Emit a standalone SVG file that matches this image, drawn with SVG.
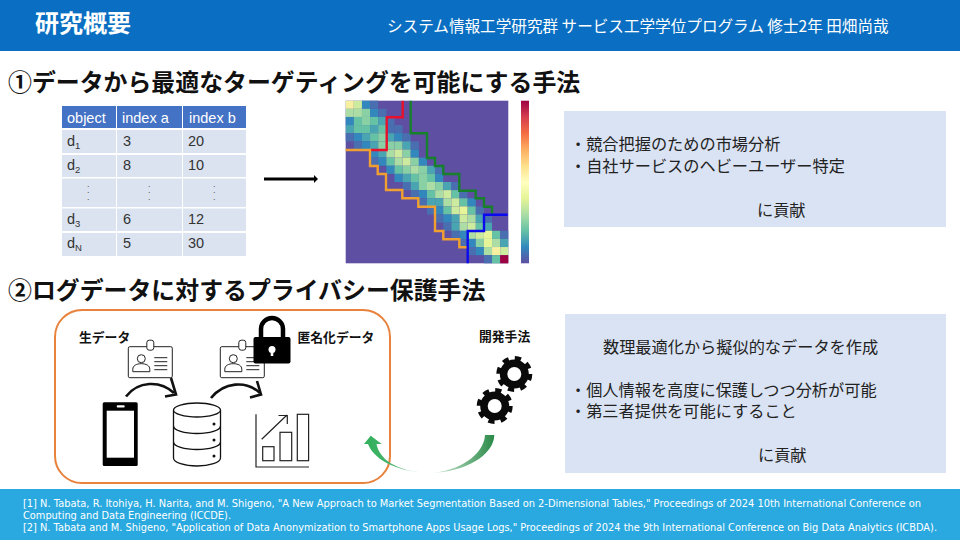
<svg xmlns="http://www.w3.org/2000/svg" width="960" height="540" viewBox="0 0 960 540">
<style>
.jp{font-family:"Noto Sans CJK JP","Liberation Sans",sans-serif}
.b{font-weight:700}
.hd{font-size:23.9px;font-weight:700;fill:#111}
.info{font-size:16.2px;fill:#222}
.lab{font-size:12.8px;font-weight:700;fill:#111}
.t{font-family:"Liberation Sans",sans-serif;font-size:14.5px;fill:#333}
.th{font-family:"Liberation Sans",sans-serif;font-size:14.5px;fill:#fff}
.sub{font-size:9.5px}
.ref{font-family:"DejaVu Sans",sans-serif;font-size:10.4px;fill:#fff}
.c1{fill:#dbe3f1}.c2{fill:#4472c4}
.dots{font-family:"Liberation Sans",sans-serif;font-size:9px;fill:#555}
.a{fill:#4a6fb0}.b1{fill:#3288bd}.c{fill:#4aa5b2}.d{fill:#66c2a5}.e{fill:#89d0a5}.f{fill:#abdda4}.g{fill:#cdeb9e}.h{fill:#e6f598}.i{fill:#f7f0a0}.z{fill:#9e0142}
.ln{fill:none;stroke-width:2.4}
.icon{fill:none;stroke:#222;stroke-width:1.2}
.curve{fill:none;stroke:#111;stroke-width:2.6}
</style>
<defs>
<linearGradient id="cb" x1="0" y1="1" x2="0" y2="0">
<stop offset="0" stop-color="#5e4fa2"/><stop offset=".1" stop-color="#3288bd"/><stop offset=".2" stop-color="#66c2a5"/><stop offset=".3" stop-color="#abdda4"/><stop offset=".4" stop-color="#e6f598"/><stop offset=".5" stop-color="#ffffbf"/><stop offset=".6" stop-color="#fee08b"/><stop offset=".7" stop-color="#fdae61"/><stop offset=".8" stop-color="#f46d43"/><stop offset=".9" stop-color="#d53e4f"/><stop offset="1" stop-color="#9e0142"/>
</linearGradient>
<linearGradient id="gr" gradientUnits="userSpaceOnUse" x1="494" y1="440" x2="366" y2="440">
<stop offset="0" stop-color="#2a8a48"/><stop offset=".45" stop-color="#c9e5d0"/><stop offset=".5" stop-color="#e8f3ea"/><stop offset=".62" stop-color="#5bb878"/><stop offset="1" stop-color="#33b05c"/>
</linearGradient>
<g id="card">
<rect x="0" y="0" width="44" height="31" rx="1.5" fill="#fff" stroke="#222" stroke-width="1"/>
<rect x="18.500" y="-6.500" width="7" height="10" rx="2.500" fill="#fff" stroke="#222" stroke-width="1"/>
<circle cx="13" cy="12" r="4" fill="none" stroke="#222" stroke-width="1"/>
<path d="M4.500 25v-2.500c0-3.500 3.500-5.500 8.500-5.500s8.500 2 8.500 5.500v2.500z" fill="none" stroke="#222" stroke-width="1"/>
<path d="M26 11h13M26 15h13M26 19h13M26 23h13" stroke="#222" stroke-width="1"/>
</g>
<g id="gear">
<circle r="14.500" fill="#0a0a0a"/>
<circle r="15.500" fill="none" stroke="#0a0a0a" stroke-width="5" stroke-dasharray="6.09 6.09"/>
<circle r="7" fill="#fff"/>
</g>
</defs>

<g id="header">
<rect x="0" y="0" width="960" height="51" fill="#0a6fc2"/>
<text class="jp b" x="35" y="32" font-size="24" fill="#fff">研究概要</text>
<text class="jp" x="387" y="32" font-size="15.6" fill="#fff">システム情報工学研究群 サービス工学学位プログラム 修士2年 田畑尚哉</text>
</g>

<text class="jp hd" x="8" y="91">①データから最適なターゲティングを可能にする手法</text>
<text class="jp hd" x="8" y="299">②ログデータに対するプライバシー保護手法</text>

<g id="table">
<rect class="c2" x="62" y="106" width="54" height="22"/><rect class="c2" x="117" y="106" width="65" height="22"/><rect class="c2" x="183" y="106" width="63" height="22"/>
<rect class="c1" x="62" y="130" width="54" height="23"/><rect class="c1" x="117" y="130" width="65" height="23"/><rect class="c1" x="183" y="130" width="63" height="23"/>
<rect class="c1" x="62" y="155" width="54" height="22"/><rect class="c1" x="117" y="155" width="65" height="22"/><rect class="c1" x="183" y="155" width="63" height="22"/>
<rect class="c1" x="62" y="178.500" width="54" height="28.500"/><rect class="c1" x="117" y="178.500" width="65" height="28.500"/><rect class="c1" x="183" y="178.500" width="63" height="28.500"/>
<rect class="c1" x="62" y="208.500" width="54" height="22.500"/><rect class="c1" x="117" y="208.500" width="65" height="22.500"/><rect class="c1" x="183" y="208.500" width="63" height="22.500"/>
<rect class="c1" x="62" y="233" width="54" height="23"/><rect class="c1" x="117" y="233" width="65" height="23"/><rect class="c1" x="183" y="233" width="63" height="23"/>
<text class="th" x="67" y="123">object</text><text class="th" x="122" y="123">index a</text><text class="th" x="189" y="123">index b</text>
<text class="t" x="67" y="146">d<tspan class="sub" dy="3">1</tspan></text><text class="t" x="123" y="146">3</text><text class="t" x="188" y="146">20</text>
<text class="t" x="67" y="170">d<tspan class="sub" dy="3">2</tspan></text><text class="t" x="123" y="170">8</text><text class="t" x="188" y="170">10</text>
<text class="dots" x="87" y="187">.</text><text class="dots" x="87" y="193">.</text><text class="dots" x="87" y="200">.</text>
<text class="dots" x="148" y="187">.</text><text class="dots" x="148" y="193">.</text><text class="dots" x="148" y="200">.</text>
<text class="dots" x="213" y="187">.</text><text class="dots" x="213" y="193">.</text><text class="dots" x="213" y="200">.</text>
<text class="t" x="67" y="224">d<tspan class="sub" dy="3">3</tspan></text><text class="t" x="123" y="224">6</text><text class="t" x="188" y="224">12</text>
<text class="t" x="67" y="248">d<tspan class="sub" dy="3">N</tspan></text><text class="t" x="123" y="248">5</text><text class="t" x="188" y="248">30</text>
</g>

<g id="heatmap" transform="translate(345.7 100.7) scale(8.13)">
<rect width="20" height="20" fill="#5e4fa2"/>
<rect class="i" x="0" y="0" width="1" height="1"/><rect class="g" x="1" y="0" width="1" height="1"/><rect class="b1" x="2" y="0" width="1" height="1"/><rect class="a" x="3" y="0" width="1" height="1"/>
<rect class="f" x="0" y="1" width="1" height="1"/><rect class="f" x="1" y="1" width="1" height="1"/><rect class="e" x="2" y="1" width="1" height="1"/><rect class="b1" x="3" y="1" width="1" height="1"/><rect class="a" x="4" y="1" width="1" height="1"/>
<rect class="b1" x="0" y="2" width="1" height="1"/><rect class="d" x="1" y="2" width="1" height="1"/><rect class="e" x="2" y="2" width="1" height="1"/><rect class="d" x="3" y="2" width="1" height="1"/><rect class="c" x="4" y="2" width="1" height="1"/><rect class="a" x="5" y="2" width="1" height="1"/>
<rect class="c" x="0" y="3" width="1" height="1"/><rect class="d" x="1" y="3" width="1" height="1"/><rect class="d" x="2" y="3" width="1" height="1"/><rect class="c" x="3" y="3" width="1" height="1"/><rect class="d" x="4" y="3" width="1" height="1"/><rect class="a" x="5" y="3" width="1" height="1"/><rect class="a" x="6" y="3" width="1" height="1"/>
<rect class="a" x="0" y="4" width="1" height="1"/><rect class="b1" x="1" y="4" width="1" height="1"/><rect class="c" x="2" y="4" width="1" height="1"/><rect class="d" x="3" y="4" width="1" height="1"/><rect class="e" x="4" y="4" width="1" height="1"/><rect class="c" x="5" y="4" width="1" height="1"/><rect class="b1" x="6" y="4" width="1" height="1"/><rect class="a" x="7" y="4" width="1" height="1"/>
<rect class="a" x="1" y="5" width="1" height="1"/><rect class="b1" x="2" y="5" width="1" height="1"/><rect class="c" x="3" y="5" width="1" height="1"/><rect class="e" x="4" y="5" width="1" height="1"/><rect class="e" x="5" y="5" width="1" height="1"/><rect class="e" x="6" y="5" width="1" height="1"/><rect class="c" x="7" y="5" width="1" height="1"/><rect class="a" x="8" y="5" width="1" height="1"/>
<rect class="b1" x="3" y="6" width="1" height="1"/><rect class="c" x="4" y="6" width="1" height="1"/><rect class="f" x="5" y="6" width="1" height="1"/><rect class="g" x="6" y="6" width="1" height="1"/><rect class="e" x="7" y="6" width="1" height="1"/><rect class="b1" x="8" y="6" width="1" height="1"/>
<rect class="a" x="3" y="7" width="1" height="1"/><rect class="b1" x="4" y="7" width="1" height="1"/><rect class="d" x="5" y="7" width="1" height="1"/><rect class="f" x="6" y="7" width="1" height="1"/><rect class="g" x="7" y="7" width="1" height="1"/><rect class="e" x="8" y="7" width="1" height="1"/><rect class="b1" x="9" y="7" width="1" height="1"/>
<rect class="b1" x="5" y="8" width="1" height="1"/><rect class="d" x="6" y="8" width="1" height="1"/><rect class="e" x="7" y="8" width="1" height="1"/><rect class="f" x="8" y="8" width="1" height="1"/><rect class="e" x="9" y="8" width="1" height="1"/><rect class="c" x="10" y="8" width="1" height="1"/><rect class="a" x="11" y="8" width="1" height="1"/>
<rect class="b1" x="6" y="9" width="1" height="1"/><rect class="c" x="7" y="9" width="1" height="1"/><rect class="d" x="8" y="9" width="1" height="1"/><rect class="e" x="9" y="9" width="1" height="1"/><rect class="d" x="10" y="9" width="1" height="1"/><rect class="b1" x="11" y="9" width="1" height="1"/>
<rect class="a" x="7" y="10" width="1" height="1"/><rect class="c" x="8" y="10" width="1" height="1"/><rect class="e" x="9" y="10" width="1" height="1"/><rect class="f" x="10" y="10" width="1" height="1"/><rect class="e" x="11" y="10" width="1" height="1"/><rect class="c" x="12" y="10" width="1" height="1"/><rect class="a" x="13" y="10" width="1" height="1"/>
<rect class="a" x="8" y="11" width="1" height="1"/><rect class="b1" x="9" y="11" width="1" height="1"/><rect class="d" x="10" y="11" width="1" height="1"/><rect class="f" x="11" y="11" width="1" height="1"/><rect class="g" x="12" y="11" width="1" height="1"/><rect class="d" x="13" y="11" width="1" height="1"/><rect class="a" x="14" y="11" width="1" height="1"/>
<rect class="a" x="9" y="12" width="1" height="1"/><rect class="c" x="10" y="12" width="1" height="1"/><rect class="c" x="11" y="12" width="1" height="1"/><rect class="f" x="12" y="12" width="1" height="1"/><rect class="g" x="13" y="12" width="1" height="1"/><rect class="d" x="14" y="12" width="1" height="1"/><rect class="b1" x="15" y="12" width="1" height="1"/>
<rect class="a" x="10" y="13" width="1" height="1"/><rect class="b1" x="11" y="13" width="1" height="1"/><rect class="d" x="12" y="13" width="1" height="1"/><rect class="g" x="13" y="13" width="1" height="1"/><rect class="h" x="14" y="13" width="1" height="1"/><rect class="d" x="15" y="13" width="1" height="1"/><rect class="a" x="16" y="13" width="1" height="1"/>
<rect class="a" x="11" y="14" width="1" height="1"/><rect class="b1" x="12" y="14" width="1" height="1"/><rect class="c" x="13" y="14" width="1" height="1"/><rect class="g" x="14" y="14" width="1" height="1"/><rect class="f" x="15" y="14" width="1" height="1"/><rect class="c" x="16" y="14" width="1" height="1"/><rect class="a" x="17" y="14" width="1" height="1"/>
<rect class="a" x="12" y="15" width="1" height="1"/><rect class="c" x="13" y="15" width="1" height="1"/><rect class="f" x="14" y="15" width="1" height="1"/><rect class="g" x="15" y="15" width="1" height="1"/><rect class="d" x="16" y="15" width="1" height="1"/><rect class="c" x="17" y="15" width="1" height="1"/>
<rect class="a" x="13" y="16" width="1" height="1"/><rect class="b1" x="14" y="16" width="1" height="1"/><rect class="f" x="15" y="16" width="1" height="1"/><rect class="g" x="16" y="16" width="1" height="1"/><rect class="h" x="17" y="16" width="1" height="1"/><rect class="d" x="18" y="16" width="1" height="1"/><rect class="a" x="19" y="16" width="1" height="1"/>
<rect class="a" x="14" y="17" width="1" height="1"/><rect class="b1" x="15" y="17" width="1" height="1"/><rect class="e" x="16" y="17" width="1" height="1"/><rect class="h" x="17" y="17" width="1" height="1"/><rect class="f" x="18" y="17" width="1" height="1"/><rect class="c" x="19" y="17" width="1" height="1"/>
<rect class="a" x="15" y="18" width="1" height="1"/><rect class="b1" x="16" y="18" width="1" height="1"/><rect class="f" x="17" y="18" width="1" height="1"/><rect class="i" x="18" y="18" width="1" height="1"/><rect class="g" x="19" y="18" width="1" height="1"/>
<rect class="a" x="17" y="19" width="1" height="1"/><rect class="d" x="18" y="19" width="1" height="1"/><rect class="z" x="19" y="19" width="1" height="1"/>
</g>
<rect id="colorbar" x="521" y="100.700" width="8" height="162.600" fill="url(#cb)"/>

<g id="connectors">
<path class="ln" stroke="#e8102a" d="M402.700 100.700V117.300H386.700V150H370.700"/>
<path class="ln" stroke="#f0a030" d="M345.700 150H370V166H377.700V174H386V190H402.300V198.300H418.300V206.700H435V231H443.300V239.300H459.300V247.300H467.300"/>
<path class="ln" stroke="#17802a" d="M410.700 100.700V133.300H427V158H435V166H443.300V174H459.300V190.700H475.700V198.300H484V206.700H492V214.700"/>
<path class="ln" stroke="#0a0af0" d="M507.700 214.700H484V231H467.700V263.300"/>
<path id="bigarrow" d="M264 177.500H314V175L318 179L314 183V180.500H264z" fill="#000"/>
</g>

<g id="info1">
<rect x="564" y="111" width="382" height="116" fill="#dae3f3"/>
<text class="jp info" x="570" y="150">・競合把握のための市場分析</text>
<text class="jp info" x="570" y="172">・自社サービスのヘビーユーザー特定</text>
<text class="jp info" x="757" y="216">に貢献</text>
</g>

<g id="pipeline">
<rect x="55" y="310" width="335" height="173" rx="27" fill="none" stroke="#e8823c" stroke-width="2"/>
<text class="jp lab" x="79" y="342">生データ</text>
<text class="jp lab" x="297.500" y="342">匿名化データ</text>
<use href="#card" x="128.300" y="346.700"/>
<use href="#card" x="220.300" y="346.700"/>
<g id="lock">
<path d="M261 340V329a11 11 0 0 1 22 0V340" fill="none" stroke="#000" stroke-width="4.500"/>
<rect x="253.500" y="337" width="37" height="26.500" rx="2" fill="#000"/>
<circle cx="272" cy="349.500" r="3.500" fill="#fff"/><rect x="270.700" y="350" width="2.600" height="6" fill="#fff"/>
</g>
<path class="curve" d="M126 396.500C138 381 160 380 174 393"/>
<path class="curve" d="M165 396.500L176 394.500L171 378"/>
<path class="curve" d="M211 398C224 382 246 380 260 393"/>
<path class="curve" d="M250 397.500L261 394.500L257 381"/>
<g id="phone">
<rect x="102.700" y="402.300" width="35" height="63.700" rx="1.500" fill="#000"/>
<rect x="106.700" y="410.700" width="27.300" height="47" fill="#fff"/>
<rect x="116.700" y="405.300" width="8" height="2.300" rx="1" fill="#fff"/>
</g>
<g id="db" fill="#fff" stroke="#111" stroke-width="1.300">
<path d="M173.500 410V458c0 4.500 11 8 23.500 8s23.500-3.500 23.500-8V410"/>
<ellipse cx="197" cy="410" rx="23.500" ry="7"/>
<path d="M173.500 426c0 4.500 11 7.500 23.500 7.500s23.500-3 23.500-7.500M173.500 442c0 4.500 11 7.500 23.500 7.500s23.500-3 23.500-7.500" fill="none"/>
<circle cx="214" cy="424" r="1.500" fill="#111" stroke="none"/><circle cx="214" cy="440" r="1.500" fill="#111" stroke="none"/><circle cx="214" cy="456" r="1.500" fill="#111" stroke="none"/>
</g>
<g id="chart">
<path class="icon" d="M256 414.300V467H309"/>
<rect class="icon" x="262.700" y="446.700" width="11.300" height="14"/>
<rect class="icon" x="280" y="432.300" width="11.700" height="28.400"/>
<rect class="icon" x="297.300" y="414.300" width="11.300" height="46.400"/>
<path class="icon" d="M261.700 439.300L287 415M278.500 415.500H287.300V424"/>
</g>
</g>

<g id="method">
<text class="jp lab" x="479" y="341">開発手法</text>
<use href="#gear" x="514.300" y="374"/>
<use href="#gear" x="494.700" y="406"/>
<path id="greenarrow" d="M485 435H494.300C494 455 465 472.700 430 472.700C402 472.700 380 462 376.500 444H381.700L370.700 435.700L364 444H368C375 462 402 472.700 430 472.700C458 472 484 455 485 435z" fill="url(#gr)"/>
</g>

<g id="info2">
<rect x="565" y="314" width="381" height="159" fill="#dae3f3"/>
<text class="jp info" x="603" y="353">数理最適化から擬似的なデータを作成</text>
<text class="jp info" x="570" y="396">・個人情報を高度に保護しつつ分析が可能</text>
<text class="jp info" x="570" y="417">・第三者提供を可能にすること</text>
<text class="jp info" x="758" y="461">に貢献</text>
</g>

<g id="footer">
<rect x="0" y="489" width="960" height="51" fill="#29a9e0"/>
<text class="ref" x="23" y="507" textLength="898" lengthAdjust="spacingAndGlyphs">[1] N. Tabata, R. Itohiya, H. Narita, and M. Shigeno, "A New Approach to Market Segmentation Based on 2-Dimensional Tables," Proceedings of 2024 10th International Conference on</text>
<text class="ref" x="23" y="519" textLength="208" lengthAdjust="spacingAndGlyphs">Computing and Data Engineering (ICCDE).</text>
<text class="ref" x="23" y="531" textLength="914" lengthAdjust="spacingAndGlyphs">[2] N. Tabata and M. Shigeno, "Application of Data Anonymization to Smartphone Apps Usage Logs," Proceedings of 2024 the 9th International Conference on Big Data Analytics (ICBDA).</text>
</g>
</svg>
